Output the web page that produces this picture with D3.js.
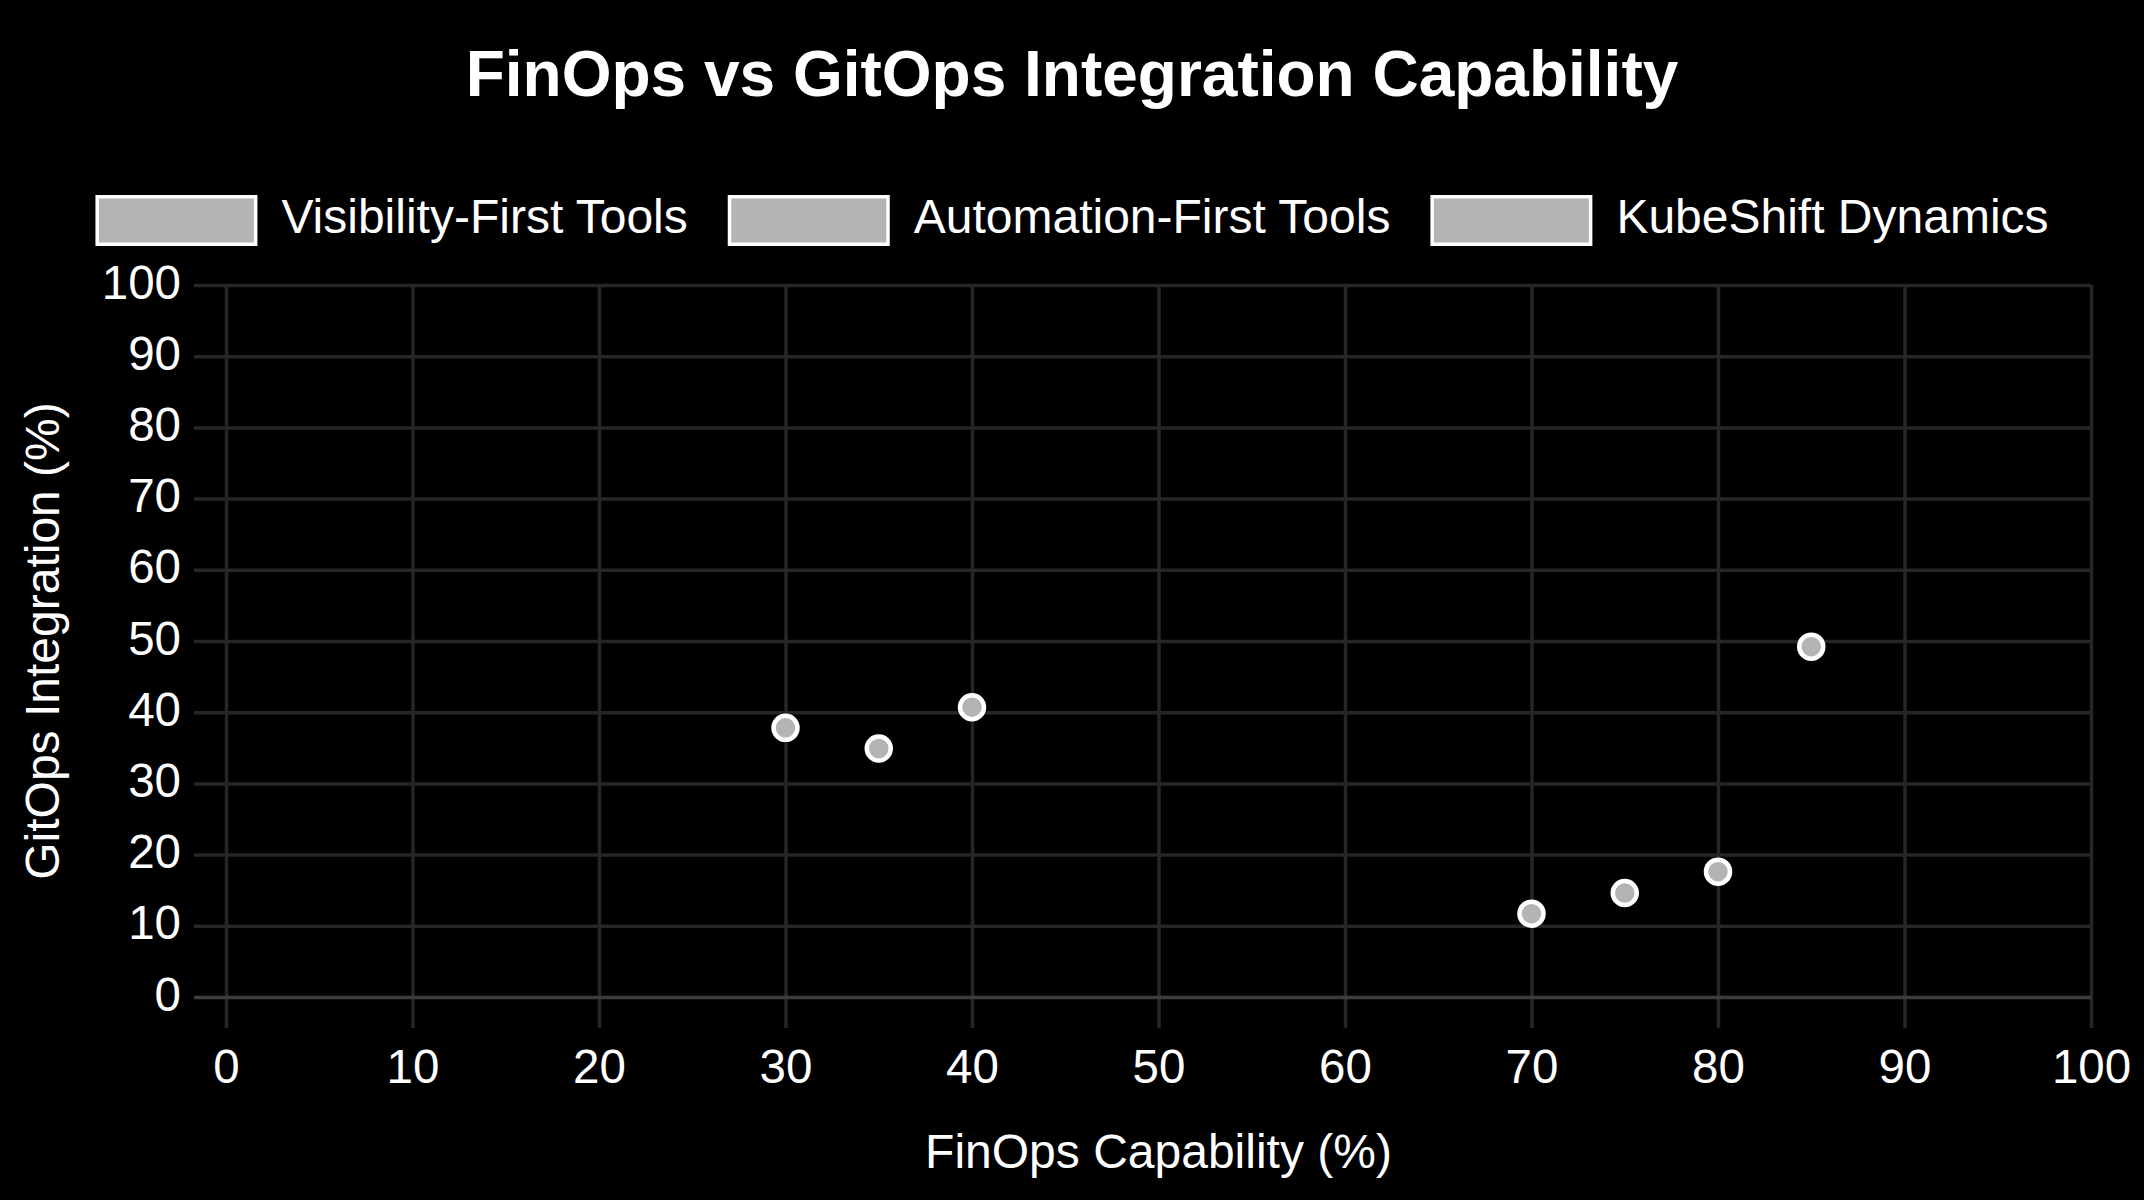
<!DOCTYPE html>
<html>
<head>
<meta charset="utf-8">
<script src="https://cdn.jsdelivr.net/npm/d3@7"></script>
<style>
  html, body { margin: 0; padding: 0; background: #000; }
  svg { display: block; }
  text { font-family: "Liberation Sans", Arial, Helvetica, sans-serif; fill: #fff; }
</style>
</head>
<body>
<svg id="chart" width="2144" height="1200"></svg>
<script>
// ---- data ----
const chartTitle = "FinOps vs GitOps Integration Capability";
const xAxisTitle = "FinOps Capability (%)";
const yAxisTitle = "GitOps Integration (%)";
const seriesNames = ["Visibility-First Tools", "Automation-First Tools", "KubeShift Dynamics"];
const visibilityX = [70, 75, 80];
const visibilityY = [11.7, 14.6, 17.6];
const automationX = [30, 35, 40];
const automationY = [37.8, 34.9, 40.7];
const kubeshiftX = [85];
const kubeshiftY = [49.2];
const xTicks = [0, 10, 20, 30, 40, 50, 60, 70, 80, 90, 100];
const yTicks = [0, 10, 20, 30, 40, 50, 60, 70, 80, 90, 100];

const seriesX = [visibilityX, automationX, kubeshiftX];
const seriesY = [visibilityY, automationY, kubeshiftY];
const series = seriesNames.map((name, i) => ({
  name,
  points: seriesX[i].map((x, j) => ({ x, y: seriesY[i][j] }))
}));

// ---- layout ----
const W = 2144, H = 1200;
const plot = { left: 226, right: 2091, top: 285, bottom: 997 };
const gridColor = "#262626";
const axisColor = "#3c3c3c";
const pointFill = "#b4b4b4";
const tickFont = 47.5;
const labelFont = 48;

const svg = d3.select("#chart");
svg.append("rect").attr("width", W).attr("height", H).attr("fill", "#000");

const x = d3.scaleLinear().domain([0, 100]).range([plot.left, plot.right]);
const y = d3.scaleLinear().domain([0, 100]).range([plot.bottom, plot.top]);

// title
svg.append("text")
  .attr("x", W / 2).attr("y", 96)
  .attr("text-anchor", "middle")
  .style("font-size", "64px").style("font-weight", "bold")
  .text(chartTitle);

// legend
const boxW = 162, boxH = 51, boxGap = 24, itemGap = 40, legendTop = 195;
const legend = svg.append("g");
const items = legend.selectAll("g.item").data(series).join("g").attr("class", "item");
items.append("rect")
  .attr("x", 1.75).attr("y", legendTop + 1.75)
  .attr("width", boxW - 3.5).attr("height", boxH - 3.5)
  .attr("fill", pointFill).attr("stroke", "#fff").attr("stroke-width", 3.5);
items.append("text")
  .attr("x", boxW + boxGap).attr("y", legendTop + 38)
  .style("font-size", labelFont + "px")
  .text(d => d.name);
const widths = [];
items.each(function () {
  const t = d3.select(this).select("text").node().getComputedTextLength();
  widths.push(boxW + boxGap + t);
});
const total = d3.sum(widths) + itemGap * (widths.length - 1);
let cx = W / 2 - total / 2;
items.each(function (d, i) {
  d3.select(this).attr("transform", `translate(${cx},0)`);
  cx += widths[i] + itemGap;
});

// grid + axes
const xAxis = d3.axisBottom(x).tickValues(xTicks).tickPadding(0).tickFormat(d3.format("d"));
const gx = svg.append("g").attr("transform", `translate(0,${plot.bottom})`).call(xAxis);
gx.select(".domain").remove();
gx.selectAll(".tick line")
  .attr("y1", 31).attr("y2", -(plot.bottom - plot.top))
  .attr("stroke", gridColor).attr("stroke-width", 3.5);
gx.selectAll(".tick text")
  .attr("y", 86).attr("dy", null)
  .attr("fill", "#fff").style("font-size", tickFont + "px")
  .style("font-family", '"Liberation Sans", Arial, sans-serif');

const yAxis = d3.axisLeft(y).tickValues(yTicks).tickPadding(0).tickFormat(d3.format("d"));
const gy = svg.append("g").attr("transform", `translate(${plot.left},0)`).call(yAxis);
gy.select(".domain").remove();
gy.selectAll(".tick line")
  .attr("x1", -32).attr("x2", plot.right - plot.left)
  .attr("stroke", d => d === 0 ? axisColor : gridColor).attr("stroke-width", 3.5);
gy.selectAll(".tick text")
  .attr("x", -45).attr("dy", null).attr("y", 13)
  .attr("fill", "#fff").style("font-size", tickFont + "px")
  .style("font-family", '"Liberation Sans", Arial, sans-serif');
// keep the zero line above vertical grid lines
gy.raise();

// axis titles
svg.append("text")
  .attr("x", (plot.left + plot.right) / 2).attr("y", 1168)
  .attr("text-anchor", "middle")
  .style("font-size", labelFont + "px")
  .text(xAxisTitle);
svg.append("text")
  .attr("transform", `translate(59,${(plot.top + plot.bottom) / 2}) rotate(-90)`)
  .attr("text-anchor", "middle")
  .style("font-size", labelFont + "px")
  .text(yAxisTitle);

// points
const pts = svg.append("g");
series.forEach(s => {
  pts.selectAll(null).data(s.points).join("circle")
    .attr("cx", d => x(d.x)).attr("cy", d => y(d.y))
    .attr("r", 12)
    .attr("fill", pointFill).attr("stroke", "#fff").attr("stroke-width", 4.5);
});
</script>
</body>
</html>
